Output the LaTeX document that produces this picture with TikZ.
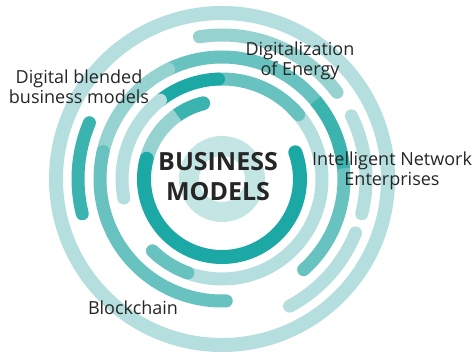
\documentclass[tikz,border=0pt]{standalone}
\usepackage{fontspec}
\setmainfont{Open Sans}
\definecolor{tealdark}{HTML}{1CA8A4}
\definecolor{tealdeep}{HTML}{3BB3AF}
\definecolor{tealmid}{HTML}{68C3C0}
\definecolor{teallight}{HTML}{95D2D0}
\definecolor{tealpale}{HTML}{B4DFDE}
\definecolor{txtgray}{HTML}{262626}
\tikzstyle{ring} = [line width=13pt, line cap=round]
\tikzstyle{lbl} = [text=txtgray, align=center, inner sep=0pt,
    font=\fontsize{18}{19.5}\selectfont]

\begin{document}
\begin{tikzpicture}[x=1pt,y=1pt]
  \useasboundingbox (0,0) rectangle (476,355);
  \fill[white] (0,0) rectangle (476,355);
  \coordinate (c) at (222,176);

  % center and outer ring
  \draw[tealpale!80, line width=20pt] (c) circle[radius=33];
  \draw[ring, tealpale, line width=14pt] (c) circle[radius=166];

  % ring at 144
  \draw[ring, teallight] (c) ++(37:144) arc[start angle=37, end angle=99, radius=144];
  \draw[ring, tealpale] (c) ++(-62:144) arc[start angle=-62, end angle=-22, radius=144];
  \draw[ring, tealpale] (c) ++(-14:144) arc[start angle=-14, end angle=26, radius=144];
  \draw[ring, tealdeep] (c) ++(157:144) arc[start angle=157, end angle=194, radius=144];

  % ring at 122
  \draw[ring, tealmid] (c) ++(-48:122) arc[start angle=-48, end angle=116, radius=122];
  \draw[tealdeep, line width=13pt] (c) ++(5:122) arc[start angle=5, end angle=40, radius=122];
  \draw[ring, teallight] (c) ++(116:122) arc[start angle=116, end angle=167, radius=122];
  \draw[ring, tealmid] (c) ++(167:122) arc[start angle=167, end angle=272, radius=122];

  % ring at 100
  \draw[ring, tealpale] (c) ++(226:100) arc[start angle=226, end angle=405, radius=100];
  \draw[ring, tealmid] (c) ++(226:100) arc[start angle=226, end angle=250, radius=100];
  \draw[ring, tealmid] (c) ++(40:100) arc[start angle=40, end angle=92, radius=100];
  \draw[ring, tealdark] (c) ++(92:100) arc[start angle=92, end angle=128, radius=100];
  \draw[ring, tealpale] (c) ++(128:100) arc[start angle=128, end angle=191, radius=100];

  % ring at 78
  \draw[ring, tealdeep, line width=14pt] (c) ++(104:78) arc[start angle=104, end angle=125, radius=78];
  \draw[teallight, line width=14pt] (c) ++(125:78) arc[start angle=125, end angle=165, radius=78];
  \draw[ring, tealdark, line width=14pt] (c) ++(165:78) arc[start angle=165, end angle=380, radius=78];

  % labels
  \node[lbl, font=\bfseries\fontsize{25}{30}\selectfont] (bm) at (218,178) {BUSINESS\\MODELS};
  \node[lbl] (dbm) at (79,268) {Digital blended\\business models};
  \node[lbl] (doe) at (300,294) {Digitalization\\of Energy};
  \node[lbl] (ine) at (392,184) {Intelligent Network\\Enterprises};
  \node[lbl] (bc) at (133,47) {Blockchain};
\end{tikzpicture}
\end{document}
